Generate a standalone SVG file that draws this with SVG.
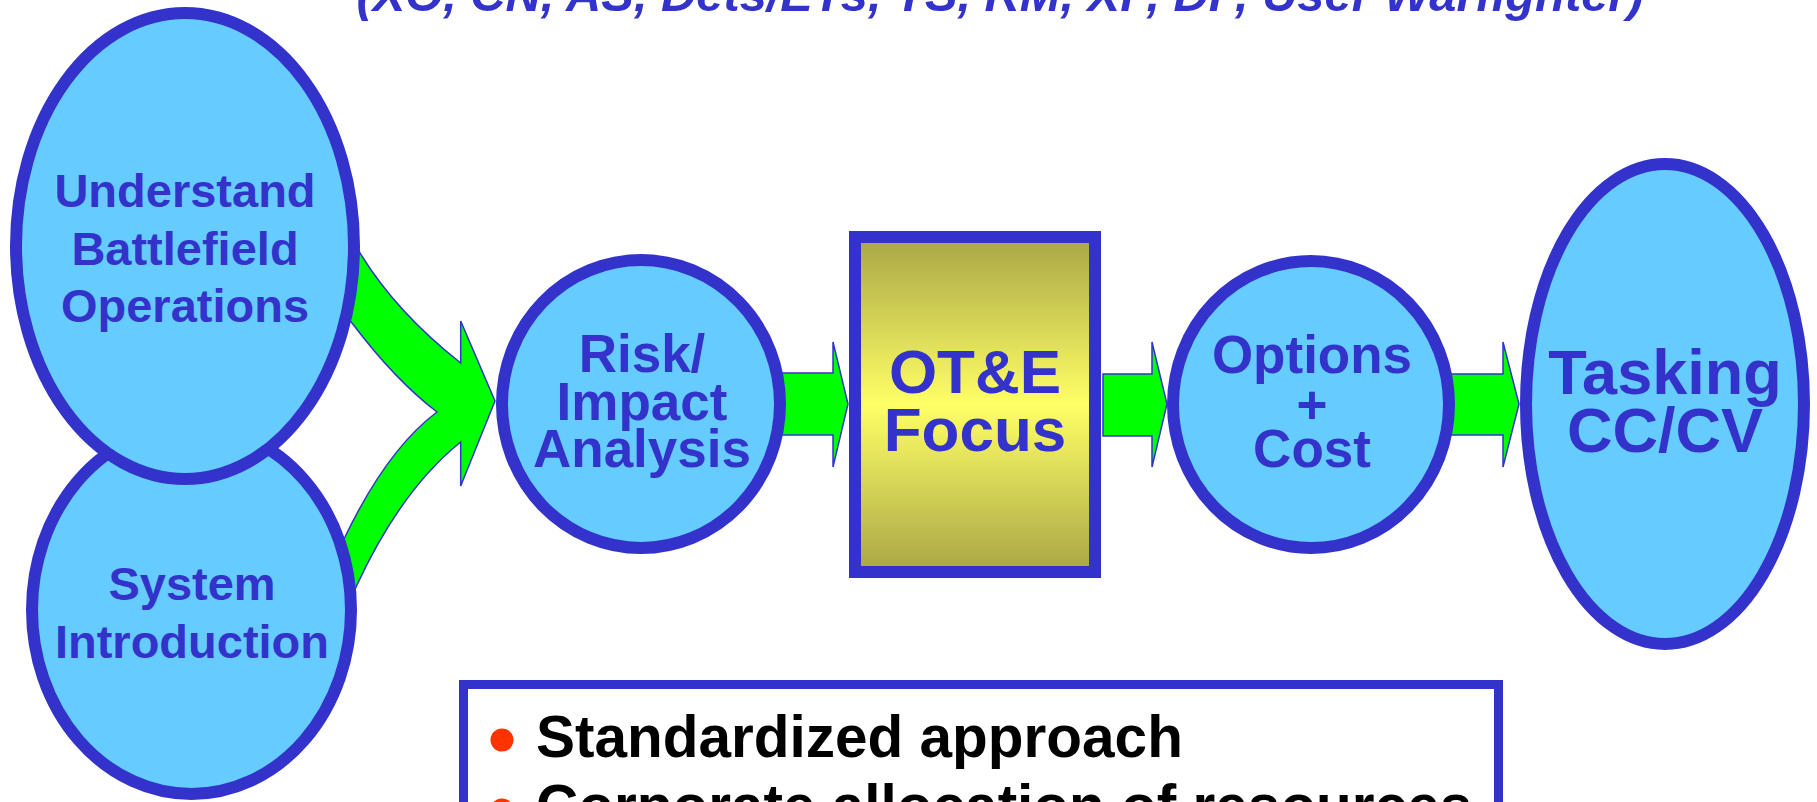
<svg xmlns="http://www.w3.org/2000/svg" width="1817" height="802" viewBox="0 0 1817 802">
<style>
.node{fill:#66CCFF;stroke:#3333CC;stroke-width:12}
.lbl{font-family:"Liberation Sans",Arial,sans-serif;font-weight:bold;fill:#3333CC;text-anchor:middle}
.arrow{fill:#00FF00;stroke:#3333CC;stroke-width:1.5;stroke-linejoin:miter}
.bul{font-family:"Liberation Sans",Arial,sans-serif;font-weight:bold;fill:#000000;font-size:58.5px}
</style>
<defs>
<linearGradient id="gold" x1="0" y1="0" x2="0" y2="1">
<stop offset="0" stop-color="#A9A646"/>
<stop offset="0.5" stop-color="#FFFF66"/>
<stop offset="1" stop-color="#A9A646"/>
</linearGradient>
</defs>
<rect width="1817" height="802" fill="#FFFFFF"/>
<text class="lbl" x="1000" y="11" font-size="48.8" font-style="italic">(XO, CN, AS, Dets/ETs, TS, RM, XP, DP, User Warfighter)</text>
<g id="connectors">
<path class="arrow" d="M340,222 L360,253 Q396,312 460.7,363 L460.7,321 L495,401 L460.7,486 L460.7,442 Q401,490 357,585 L347,607 L335,558 L345,537 Q387,449.5 437,412 Q395.5,380.5 352,323 L330,295 Z"/>
<path class="arrow" d="M780,373 L833,373 L833,342 L848,404 L833,467 L833,435 L780,435 Z"/>
<path class="arrow" d="M1103,374 L1152,374 L1152,342 L1167,404 L1152,467 L1152,436 L1103,436 Z"/>
<path class="arrow" d="M1450,374 L1503,374 L1503,342 L1519,404 L1503,467 L1503,435 L1450,435 Z"/>
</g>
<g id="system">
<ellipse class="node" cx="191.5" cy="610" rx="159.5" ry="184"/>
<text class="lbl" font-size="47"><tspan x="192" y="600">System</tspan><tspan x="192" y="658">Introduction</tspan></text>
</g>
<g id="understand">
<ellipse class="node" cx="185" cy="246" rx="169" ry="233"/>
<text class="lbl" font-size="47"><tspan x="185" y="207">Understand</tspan><tspan x="185" y="265">Battlefield</tspan><tspan x="185" y="322">Operations</tspan></text>
</g>
<g id="risk">
<ellipse class="node" cx="641" cy="404" rx="139" ry="144"/>
<text class="lbl" font-size="53"><tspan x="642" y="372">Risk/</tspan><tspan x="642" y="420">Impact</tspan><tspan x="642" y="467">Analysis</tspan></text>
</g>
<g id="ote">
<rect x="855" y="237" width="240" height="335" fill="url(#gold)" stroke="#3333CC" stroke-width="12"/>
<text class="lbl" font-size="62"><tspan x="975" y="393">OT&amp;E</tspan><tspan x="975" y="451">Focus</tspan></text>
</g>
<g id="options">
<ellipse class="node" cx="1311" cy="404.5" rx="138" ry="143.5"/>
<text class="lbl" font-size="53"><tspan x="1312" y="373">Options</tspan><tspan x="1312" y="423">+</tspan><tspan x="1312" y="467">Cost</tspan></text>
</g>
<g id="tasking">
<ellipse class="node" cx="1665" cy="404" rx="139" ry="240"/>
<text class="lbl" font-size="63"><tspan x="1665" y="394">Tasking</tspan><tspan x="1665" y="452">CC/CV</tspan></text>
</g>
<g id="notes">
<rect x="463.5" y="684.5" width="1035" height="200" fill="#FFFFFF" stroke="#3333CC" stroke-width="9"/>
<circle cx="502" cy="740" r="11.5" fill="#FF3300"/>
<circle cx="502" cy="810" r="11.5" fill="#FF3300"/>
<text class="bul" x="536" y="757">Standardized approach</text>
<text class="bul" x="536" y="826">Corporate allocation of resources</text>
</g>
</svg>
